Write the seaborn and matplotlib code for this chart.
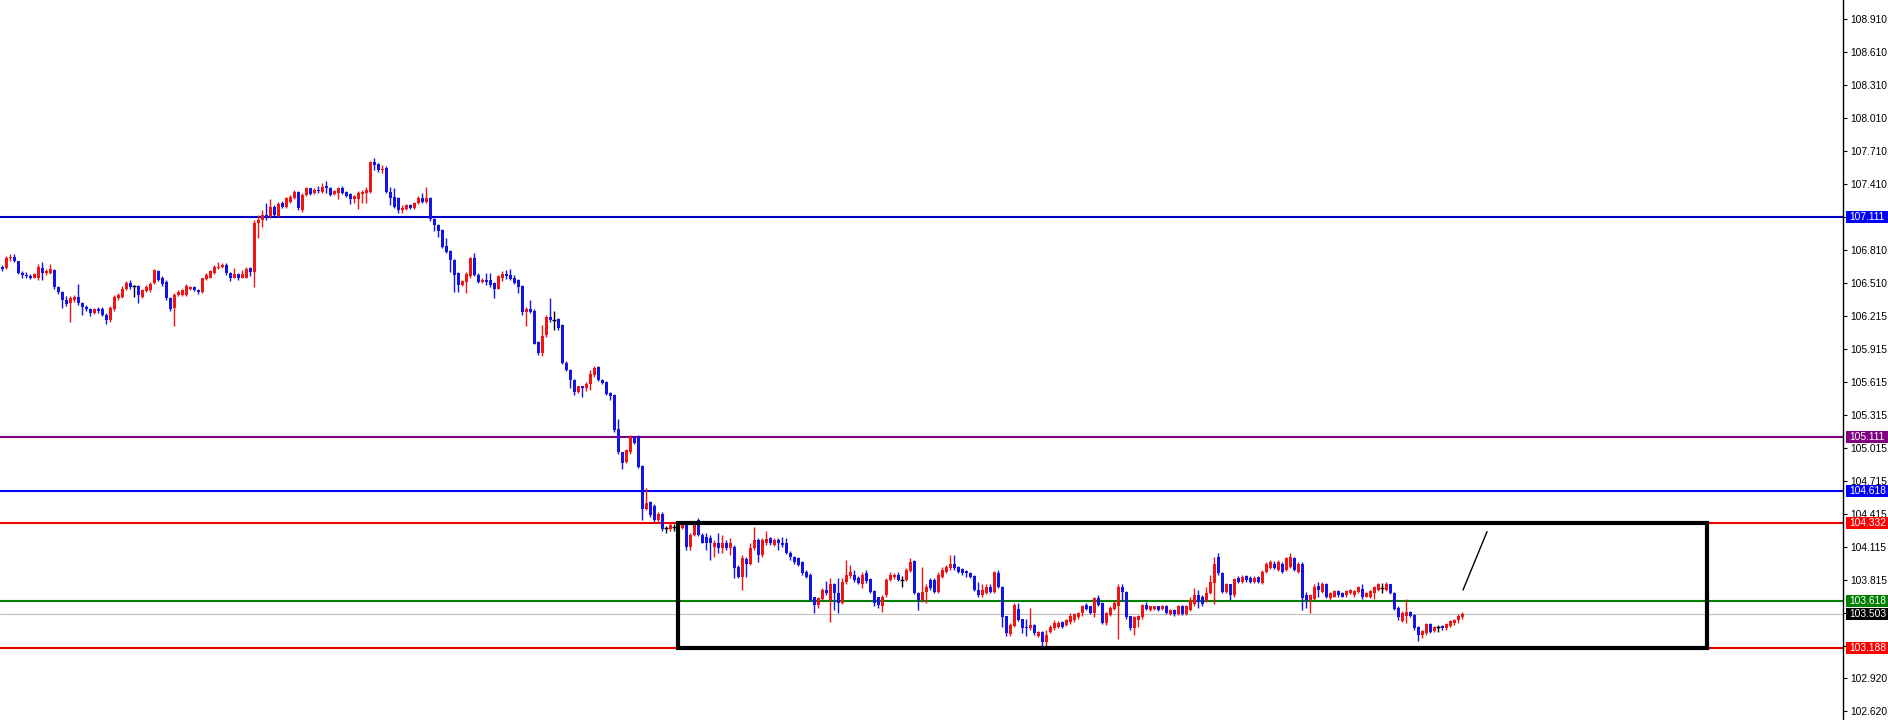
import numpy as np
import pandas as pd
import matplotlib
matplotlib.use("Agg")
import matplotlib.pyplot as plt
import matplotlib.transforms as mtransforms
from matplotlib.patches import Rectangle
import seaborn as sns

# candle prices (one candle per bar, left to right)
opens = [
    106.66, 106.65, 106.74, 106.75, 106.71, 106.60, 106.58, 106.57, 106.56, 106.56,
    106.65, 106.60, 106.60, 106.63, 106.47, 106.43, 106.36, 106.33, 106.36, 106.38,
    106.33, 106.29, 106.27, 106.24, 106.27, 106.27, 106.22, 106.17, 106.27, 106.37,
    106.38, 106.46, 106.51, 106.48, 106.48, 106.38, 106.44, 106.45, 106.51, 106.62,
    106.56, 106.52, 106.37, 106.28, 106.40, 106.40, 106.40, 106.46, 106.47, 106.45,
    106.43, 106.55, 106.56, 106.60, 106.65, 106.66, 106.67, 106.60, 106.56, 106.59,
    106.56, 106.56, 106.65, 106.61, 107.06, 107.08, 107.13, 107.12, 107.20, 107.12,
    107.24, 107.20, 107.25, 107.28, 107.34, 107.17, 107.31, 107.37, 107.33, 107.36,
    107.34, 107.39, 107.37, 107.32, 107.33, 107.37, 107.34, 107.32, 107.27, 107.27,
    107.32, 107.33, 107.34, 107.61, 107.59, 107.54, 107.56, 107.34, 107.29, 107.28,
    107.17, 107.18, 107.22, 107.19, 107.24, 107.28, 107.25, 107.28, 107.09, 107.04,
    106.99, 106.85, 106.80, 106.72, 106.60, 106.49, 106.52, 106.57, 106.74, 106.58,
    106.52, 106.54, 106.54, 106.51, 106.46, 106.56, 106.59, 106.58, 106.56, 106.54,
    106.48, 106.25, 106.27, 106.26, 105.97, 105.87, 106.04, 106.20, 106.17, 106.18,
    106.13, 105.78, 105.72, 105.63, 105.52, 105.57, 105.56, 105.59, 105.67, 105.75,
    105.63, 105.61, 105.51, 105.49, 105.18, 104.97, 104.88, 104.97, 105.11, 105.11,
    104.85, 104.46, 104.52, 104.48, 104.36, 104.41, 104.28, 104.27, 104.29, 104.29,
    104.28, 104.31, 104.11, 104.22, 104.36, 104.22, 104.20, 104.19, 104.11, 104.15,
    104.10, 104.15, 104.10, 104.11, 103.93, 103.84, 104.00, 103.96, 104.10, 104.17,
    104.04, 104.15, 104.19, 104.13, 104.17, 104.15, 104.15, 104.06, 104.02, 104.01,
    103.97, 103.88, 103.86, 103.66, 103.58, 103.64, 103.72, 103.63, 103.77, 103.69,
    103.60, 103.79, 103.85, 103.86, 103.83, 103.77, 103.87, 103.82, 103.71, 103.66,
    103.57, 103.67, 103.81, 103.84, 103.86, 103.81, 103.81, 103.89, 103.98, 103.69,
    103.63, 103.70, 103.81, 103.81, 103.70, 103.84, 103.88, 103.92, 103.96, 103.93,
    103.91, 103.89, 103.87, 103.85, 103.72, 103.67, 103.69, 103.75, 103.70, 103.87,
    103.75, 103.48, 103.32, 103.39, 103.55, 103.46, 103.38, 103.37, 103.40, 103.30,
    103.34, 103.25, 103.34, 103.37, 103.38, 103.43, 103.40, 103.43, 103.45, 103.47,
    103.51, 103.58, 103.57, 103.51, 103.65, 103.60, 103.42, 103.49, 103.55, 103.57,
    103.75, 103.70, 103.48, 103.37, 103.45, 103.47, 103.58, 103.54, 103.55, 103.57,
    103.55, 103.57, 103.50, 103.54, 103.50, 103.57, 103.50, 103.54, 103.59, 103.67,
    103.66, 103.62, 103.69, 103.78, 104.02, 103.87, 103.70, 103.77, 103.67, 103.83,
    103.79, 103.85, 103.83, 103.79, 103.84, 103.78, 103.88, 103.92, 103.96, 103.90,
    103.96, 103.90, 103.93, 104.01, 103.88, 103.96, 103.67, 103.63, 103.64, 103.76,
    103.70, 103.77, 103.65, 103.66, 103.71, 103.69, 103.67, 103.69, 103.67, 103.70,
    103.73, 103.66, 103.66, 103.69, 103.72, 103.74, 103.72, 103.77, 103.69, 103.56,
    103.44, 103.48, 103.52, 103.49, 103.38, 103.31, 103.33, 103.41, 103.35, 103.38,
    103.39, 103.37, 103.39, 103.42, 103.45, 103.47,
]
highs = [
    106.67, 106.76, 106.77, 106.77, 106.71, 106.62, 106.61, 106.59, 106.60, 106.68,
    106.70, 106.64, 106.68, 106.64, 106.48, 106.44, 106.39, 106.39, 106.40, 106.50,
    106.34, 106.31, 106.28, 106.28, 106.29, 106.29, 106.24, 106.30, 106.40, 106.42,
    106.48, 106.53, 106.54, 106.49, 106.49, 106.46, 106.49, 106.52, 106.64, 106.63,
    106.57, 106.54, 106.38, 106.42, 106.45, 106.46, 106.50, 106.48, 106.48, 106.46,
    106.56, 106.60, 106.63, 106.67, 106.70, 106.69, 106.69, 106.61, 106.65, 106.60,
    106.63, 106.66, 106.66, 107.08, 107.13, 107.17, 107.24, 107.27, 107.22, 107.25,
    107.26, 107.29, 107.31, 107.36, 107.35, 107.33, 107.38, 107.37, 107.37, 107.39,
    107.42, 107.44, 107.38, 107.36, 107.38, 107.39, 107.35, 107.33, 107.31, 107.35,
    107.36, 107.38, 107.62, 107.65, 107.60, 107.58, 107.57, 107.38, 107.37, 107.29,
    107.22, 107.23, 107.23, 107.25, 107.30, 107.33, 107.38, 107.29, 107.10, 107.05,
    107.00, 106.92, 106.81, 106.73, 106.61, 106.54, 106.61, 106.75, 106.78, 106.60,
    106.56, 106.60, 106.60, 106.52, 106.58, 106.62, 106.63, 106.64, 106.58, 106.55,
    106.49, 106.29, 106.36, 106.27, 105.98, 106.13, 106.22, 106.37, 106.26, 106.19,
    106.14, 105.80, 105.73, 105.64, 105.57, 105.57, 105.61, 105.72, 105.76, 105.76,
    105.64, 105.62, 105.52, 105.50, 105.27, 104.97, 105.00, 105.13, 105.12, 105.13,
    104.86, 104.65, 104.53, 104.50, 104.43, 104.43, 104.30, 104.33, 104.32, 104.34,
    104.34, 104.33, 104.24, 104.33, 104.37, 104.24, 104.24, 104.22, 104.17, 104.24,
    104.22, 104.17, 104.19, 104.13, 103.95, 104.04, 104.02, 104.15, 104.29, 104.19,
    104.19, 104.26, 104.20, 104.19, 104.19, 104.20, 104.19, 104.07, 104.03, 104.02,
    103.98, 103.90, 103.87, 103.66, 103.66, 103.74, 103.80, 103.83, 103.78, 103.83,
    103.83, 103.99, 103.95, 103.90, 103.85, 103.88, 103.90, 103.83, 103.72, 103.66,
    103.67, 103.83, 103.88, 103.87, 103.88, 103.85, 103.92, 104.01, 103.99, 103.70,
    103.93, 103.77, 103.83, 103.83, 103.88, 103.93, 103.95, 104.04, 104.04, 103.94,
    103.92, 103.90, 103.88, 103.86, 103.79, 103.77, 103.77, 103.77, 103.89, 103.90,
    103.76, 103.48, 103.42, 103.60, 103.60, 103.46, 103.46, 103.56, 103.41, 103.35,
    103.35, 103.36, 103.40, 103.45, 103.44, 103.44, 103.46, 103.51, 103.51, 103.52,
    103.58, 103.60, 103.57, 103.66, 103.67, 103.61, 103.52, 103.57, 103.62, 103.77,
    103.77, 103.71, 103.48, 103.48, 103.49, 103.59, 103.61, 103.57, 103.57, 103.57,
    103.58, 103.58, 103.55, 103.55, 103.58, 103.58, 103.58, 103.66, 103.74, 103.72,
    103.67, 103.75, 103.86, 104.02, 104.06, 103.88, 103.78, 103.77, 103.83, 103.85,
    103.86, 103.86, 103.85, 103.85, 103.85, 103.90, 103.97, 103.99, 103.98, 103.99,
    103.97, 104.02, 104.06, 104.02, 103.97, 103.97, 103.70, 103.68, 103.77, 103.79,
    103.79, 103.78, 103.70, 103.72, 103.72, 103.70, 103.72, 103.73, 103.72, 103.76,
    103.77, 103.70, 103.72, 103.76, 103.78, 103.78, 103.79, 103.77, 103.70, 103.57,
    103.53, 103.64, 103.53, 103.50, 103.39, 103.36, 103.42, 103.42, 103.39, 103.40,
    103.40, 103.42, 103.45, 103.46, 103.50, 103.52,
]
lows = [
    106.62, 106.64, 106.71, 106.70, 106.59, 106.56, 106.56, 106.55, 106.56, 106.54,
    106.54, 106.58, 106.59, 106.46, 106.41, 106.28, 106.30, 106.16, 106.34, 106.31,
    106.22, 106.26, 106.21, 106.23, 106.24, 106.21, 106.14, 106.16, 106.26, 106.36,
    106.37, 106.45, 106.46, 106.38, 106.33, 106.37, 106.43, 106.43, 106.50, 106.53,
    106.48, 106.36, 106.26, 106.12, 106.39, 106.39, 106.39, 106.45, 106.44, 106.41,
    106.42, 106.54, 106.56, 106.59, 106.64, 106.65, 106.58, 106.53, 106.56, 106.54,
    106.56, 106.56, 106.57, 106.47, 106.92, 107.02, 107.08, 107.10, 107.12, 107.11,
    107.19, 107.19, 107.24, 107.27, 107.17, 107.16, 107.30, 107.31, 107.32, 107.33,
    107.33, 107.33, 107.30, 107.31, 107.27, 107.32, 107.29, 107.23, 107.24, 107.18,
    107.24, 107.24, 107.33, 107.54, 107.52, 107.51, 107.33, 107.22, 107.19, 107.15,
    107.15, 107.17, 107.18, 107.18, 107.23, 107.24, 107.24, 107.07, 106.98, 106.93,
    106.83, 106.78, 106.61, 106.43, 106.43, 106.48, 106.42, 106.56, 106.57, 106.51,
    106.51, 106.49, 106.47, 106.37, 106.46, 106.53, 106.55, 106.54, 106.50, 106.42,
    106.22, 106.12, 106.24, 105.96, 105.86, 105.85, 106.02, 106.16, 106.08, 106.08,
    105.77, 105.71, 105.56, 105.49, 105.51, 105.47, 105.53, 105.54, 105.66, 105.62,
    105.59, 105.49, 105.45, 105.16, 104.96, 104.82, 104.87, 104.96, 105.05, 104.83,
    104.36, 104.45, 104.38, 104.34, 104.34, 104.26, 104.24, 104.26, 104.26, 104.26,
    104.27, 104.08, 104.08, 104.21, 104.21, 104.15, 104.08, 103.99, 104.02, 104.06,
    104.06, 104.08, 104.04, 103.83, 103.83, 103.72, 103.84, 103.95, 104.08, 103.97,
    104.02, 104.13, 104.13, 104.12, 104.08, 104.11, 104.05, 103.99, 103.96, 103.94,
    103.86, 103.83, 103.62, 103.51, 103.56, 103.63, 103.67, 103.43, 103.54, 103.51,
    103.59, 103.77, 103.83, 103.79, 103.77, 103.74, 103.78, 103.69, 103.57, 103.56,
    103.52, 103.66, 103.80, 103.82, 103.80, 103.75, 103.80, 103.88, 103.68, 103.54,
    103.61, 103.60, 103.72, 103.69, 103.69, 103.83, 103.87, 103.90, 103.90, 103.87,
    103.86, 103.84, 103.83, 103.71, 103.66, 103.66, 103.68, 103.69, 103.69, 103.74,
    103.38, 103.30, 103.30, 103.38, 103.44, 103.33, 103.30, 103.36, 103.31, 103.29,
    103.21, 103.20, 103.33, 103.36, 103.37, 103.37, 103.39, 103.41, 103.43, 103.46,
    103.48, 103.54, 103.50, 103.47, 103.57, 103.41, 103.40, 103.48, 103.54, 103.27,
    103.62, 103.46, 103.36, 103.31, 103.38, 103.46, 103.54, 103.53, 103.54, 103.53,
    103.54, 103.50, 103.49, 103.48, 103.49, 103.49, 103.49, 103.53, 103.57, 103.56,
    103.57, 103.61, 103.68, 103.59, 103.86, 103.69, 103.69, 103.63, 103.66, 103.78,
    103.78, 103.79, 103.78, 103.78, 103.78, 103.77, 103.87, 103.91, 103.91, 103.89,
    103.87, 103.89, 103.92, 103.89, 103.87, 103.54, 103.56, 103.51, 103.63, 103.66,
    103.69, 103.65, 103.63, 103.66, 103.66, 103.66, 103.66, 103.68, 103.66, 103.69,
    103.64, 103.66, 103.65, 103.64, 103.71, 103.69, 103.71, 103.68, 103.54, 103.45,
    103.43, 103.42, 103.47, 103.36, 103.26, 103.28, 103.31, 103.33, 103.34, 103.34,
    103.36, 103.36, 103.38, 103.40, 103.42, 103.46,
]
closes = [
    106.64, 106.74, 106.75, 106.71, 106.60, 106.58, 106.57, 106.56, 106.59, 106.66,
    106.60, 106.62, 106.64, 106.47, 106.43, 106.36, 106.32, 106.37, 106.38, 106.33,
    106.29, 106.27, 106.24, 106.27, 106.26, 106.22, 106.17, 106.28, 106.38, 106.40,
    106.46, 106.51, 106.47, 106.48, 106.40, 106.45, 106.47, 106.50, 106.63, 106.54,
    106.50, 106.37, 106.27, 106.40, 106.43, 106.45, 106.48, 106.47, 106.45, 106.43,
    106.56, 106.58, 106.62, 106.66, 106.66, 106.67, 106.60, 106.56, 106.59, 106.56,
    106.59, 106.64, 106.61, 107.06, 107.08, 107.13, 107.11, 107.20, 107.13, 107.23,
    107.20, 107.28, 107.29, 107.34, 107.19, 107.31, 107.37, 107.32, 107.36, 107.35,
    107.38, 107.37, 107.31, 107.35, 107.37, 107.33, 107.30, 107.27, 107.30, 107.33,
    107.34, 107.36, 107.61, 107.58, 107.54, 107.55, 107.34, 107.28, 107.20, 107.17,
    107.19, 107.22, 107.19, 107.24, 107.28, 107.25, 107.28, 107.09, 107.04, 106.98,
    106.84, 106.79, 106.72, 106.58, 106.49, 106.53, 106.59, 106.74, 106.58, 106.52,
    106.54, 106.52, 106.49, 106.46, 106.57, 106.59, 106.57, 106.55, 106.51, 106.47,
    106.25, 106.27, 106.25, 105.96, 105.87, 106.03, 106.20, 106.17, 106.17, 106.10,
    105.78, 105.72, 105.63, 105.52, 105.57, 105.56, 105.59, 105.68, 105.74, 105.63,
    105.60, 105.50, 105.48, 105.17, 104.97, 104.87, 104.99, 105.11, 105.06, 104.84,
    104.46, 104.51, 104.40, 104.36, 104.41, 104.27, 104.28, 104.31, 104.29, 104.30,
    104.31, 104.11, 104.22, 104.31, 104.22, 104.15, 104.15, 104.15, 104.15, 104.10,
    104.15, 104.10, 104.15, 103.92, 103.84, 104.01, 103.96, 104.10, 104.17, 104.04,
    104.17, 104.18, 104.15, 104.17, 104.15, 104.13, 104.06, 104.02, 103.97, 103.95,
    103.87, 103.84, 103.63, 103.58, 103.65, 103.72, 103.69, 103.77, 103.69, 103.60,
    103.79, 103.86, 103.88, 103.81, 103.78, 103.86, 103.80, 103.70, 103.60, 103.58,
    103.66, 103.81, 103.86, 103.86, 103.81, 103.81, 103.90, 103.97, 103.69, 103.63,
    103.70, 103.75, 103.74, 103.70, 103.86, 103.90, 103.93, 103.96, 103.92, 103.88,
    103.87, 103.87, 103.84, 103.72, 103.67, 103.72, 103.75, 103.70, 103.88, 103.75,
    103.47, 103.33, 103.40, 103.58, 103.45, 103.37, 103.37, 103.40, 103.33, 103.34,
    103.25, 103.31, 103.38, 103.42, 103.42, 103.38, 103.45, 103.48, 103.50, 103.51,
    103.57, 103.55, 103.51, 103.65, 103.58, 103.42, 103.51, 103.56, 103.60, 103.75,
    103.70, 103.47, 103.37, 103.47, 103.48, 103.58, 103.55, 103.57, 103.57, 103.54,
    103.57, 103.51, 103.54, 103.50, 103.57, 103.50, 103.57, 103.63, 103.67, 103.61,
    103.59, 103.69, 103.79, 103.96, 103.87, 103.70, 103.77, 103.67, 103.82, 103.79,
    103.84, 103.81, 103.79, 103.83, 103.79, 103.88, 103.96, 103.97, 103.92, 103.97,
    103.88, 104.01, 104.02, 103.90, 103.96, 103.65, 103.63, 103.67, 103.75, 103.72,
    103.77, 103.66, 103.69, 103.71, 103.67, 103.66, 103.71, 103.72, 103.71, 103.75,
    103.66, 103.69, 103.71, 103.75, 103.77, 103.74, 103.77, 103.69, 103.55, 103.47,
    103.51, 103.52, 103.48, 103.37, 103.31, 103.35, 103.41, 103.34, 103.38, 103.38,
    103.37, 103.41, 103.44, 103.45, 103.48, 103.50,
]

# horizontal levels drawn on the chart
levels = [107.111, 105.111, 104.618, 104.332, 103.618, 103.188]
level_colors = ["#0000c8", "#800080", "#0000ff", "#ee0000", "#008000", "#ee0000"]
tag_colors = ["#0000ff", "#800080", "#0000ff", "#ff0000", "#008000", "#ff0000"]
bid_price = 103.503

# right price scale
tick_prices = [108.910, 108.610, 108.310, 108.010, 107.710, 107.410, 107.110,
               106.810, 106.510, 106.215, 105.915, 105.615, 105.315, 105.015,
               104.715, 104.415, 104.115, 103.815, 103.515, 103.215, 102.920, 102.620]

# rectangle zone and the small trend stroke (bar index, price)
box_bars = [168.9, 426.2]
box_prices = [103.188, 104.332]
stroke_bars = [365.2, 371.2]
stroke_prices = [103.72, 104.25]

df = pd.DataFrame({"open": opens, "high": highs, "low": lows, "close": closes})
df["bar"] = np.arange(len(df))
df["color"] = np.where(df["close"] > df["open"], "#f01414",
                       np.where(df["close"] < df["open"], "#1414e6", "#000000"))

sns.set_style("white")
plt.rcParams["font.family"] = ["Liberation Sans", "DejaVu Sans"]

fig = plt.figure(figsize=(18.88, 7.2), dpi=100)
ax = fig.add_axes([0, 0, 1843 / 1888, 1])
ax.set_facecolor("white")

# levels
for p, col in zip(levels, level_colors):
    ax.axhline(p, color=col, lw=1.5, zorder=1)
ax.axhline(bid_price, color="#c0c0c0", lw=0.8, zorder=1)

# candles
ax.vlines(df["bar"], df["low"], df["high"], colors=df["color"], lw=1.0, zorder=3)
body = df[df["close"] != df["open"]]
ax.bar(body["bar"], body["close"] - body["open"], bottom=body["open"],
       width=0.8, color=body["color"], linewidth=0, zorder=4)
flat = df[df["close"] == df["open"]]
ax.hlines(flat["close"], flat["bar"] - 0.45, flat["bar"] + 0.45,
          colors=flat["color"], lw=1.0, zorder=4)

# zone box and stroke
ax.add_patch(Rectangle((box_bars[0], box_prices[0]), box_bars[1] - box_bars[0],
                       box_prices[1] - box_prices[0], fill=False,
                       edgecolor="black", lw=3.0, zorder=5))
ax.plot(stroke_bars, stroke_prices, color="black", lw=1.0, zorder=5)

ax.set_xlim(-0.575, 460.2)
ax.set_ylim(102.538, 109.083)
ax.set_xticks([])

ax.yaxis.tick_right()
ax.set_yticks(tick_prices)
ax.set_yticklabels([f"{t:.3f}" for t in tick_prices], fontsize=7.4)
ax.tick_params(axis="y", length=3, width=0.8, pad=2, colors="black")
for side in ["top", "left", "bottom"]:
    ax.spines[side].set_visible(False)
ax.spines["right"].set_color("black")
ax.spines["right"].set_linewidth(1.0)

# price tags on the scale
trans = mtransforms.blended_transform_factory(ax.transAxes, ax.transData)
tag_h = 6.0 / 110
x0 = 1846 / 1843
x1 = 1888 / 1843
for p, col in zip(levels + [bid_price], tag_colors + ["#000000"]):
    ax.add_patch(Rectangle((x0, p - tag_h), x1 - x0, 2 * tag_h, transform=trans,
                           facecolor=col, edgecolor="none", clip_on=False, zorder=10))
    ax.text(1849 / 1843, p, f"{p:.3f}", transform=trans, color="white",
            fontsize=7.4, va="center", ha="left", clip_on=False, zorder=11)

fig.savefig("out.png", dpi=100, facecolor="white")
